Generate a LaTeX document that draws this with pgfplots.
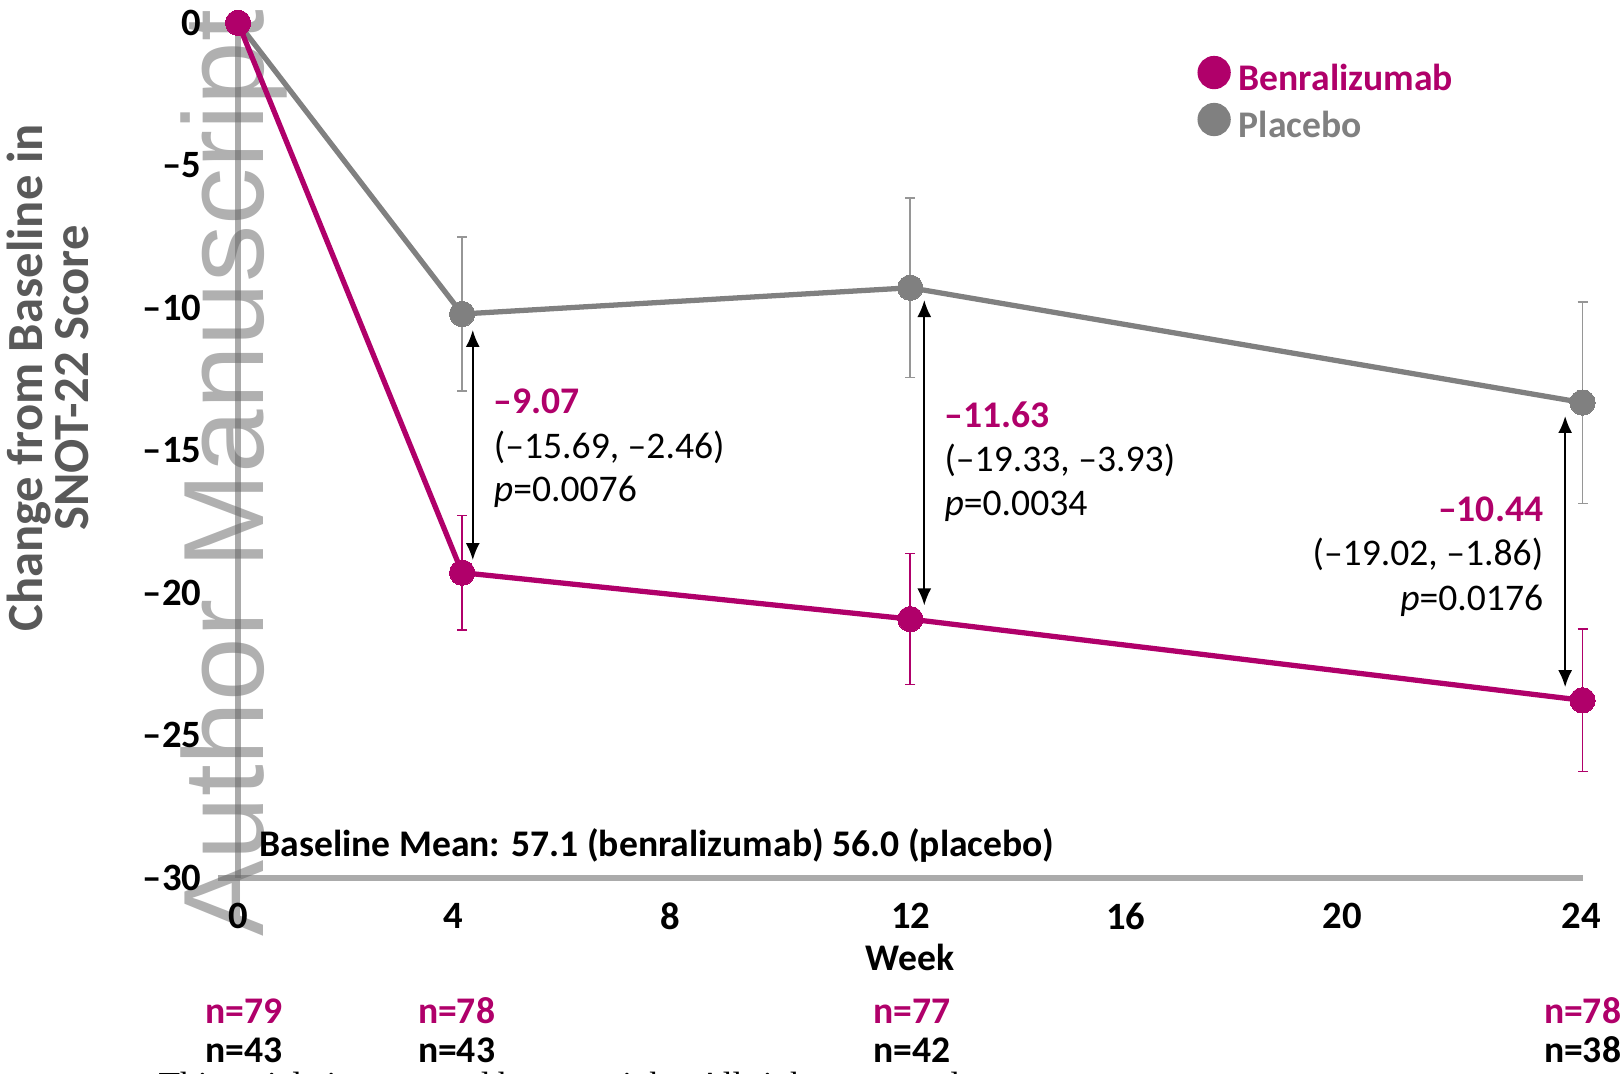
\documentclass[border=0pt]{standalone}
\usepackage{fontspec}
\setmainfont{Carlito}
\newfontfamily\wmfont{Liberation Sans}
\newfontfamily\seriffont{Liberation Serif}
\usepackage{pgfplots}
\pgfplotsset{compat=1.18}
\usetikzlibrary{arrows.meta}
\definecolor{benra}{RGB}{176,0,106}
\definecolor{plac}{RGB}{128,128,128}
\definecolor{placerr}{RGB}{150,150,150}
\definecolor{ylab}{RGB}{89,89,89}
\newcommand{\lab}{\fontsize{10.7}{13}\selectfont\bfseries}
\newcommand{\reg}{\fontsize{10.7}{13}\selectfont}
\begin{document}
\begin{tikzpicture}
\useasboundingbox (0,0) rectangle (16.23cm,10.73cm);
\node[rotate=90, anchor=base, font=\wmfont\fontsize{32.5}{36}\selectfont, text=black!50, opacity=0.62, inner sep=0pt] at (2.63cm,6.00cm) {Author Manuscript};
\node[anchor=base west, font=\seriffont\fontsize{10}{12}\selectfont, inner sep=0pt] at (1.58cm,-0.23cm) {This article is protected by copyright. All rights reserved.};
\begin{axis}[
  at={(2.3805cm,1.955cm)}, anchor=south west,
  scale only axis, width=13.4445cm, height=8.547cm,
  xmin=0, xmax=24, ymin=-30, ymax=0,
  clip=false,
  axis x line*=bottom, axis y line*=left,
  axis line style={draw=none},
  major tick length=0pt,
  xtick={0,3.84,7.72,12.01,15.85,19.71,23.98},
  xticklabels={0,4,8,12,16,20,24},
  ytick={-30,-25,-20,-15,-10,-5,0},
  yticklabels={–30,–25,–20,–15,–10,–5,0},
  xticklabel style={anchor=center, inner sep=0pt, yshift=-0.385cm, font=\fontsize{11}{13}\selectfont\bfseries},
  yticklabel style={anchor=east, inner sep=0pt, xshift=-0.36cm, font=\fontsize{11}{13}\selectfont\bfseries},
  ylabel={Change from Baseline in\\SNOT-22 Score},
  ylabel style={at={(axis description cs:-0.1414,0.5844)}, anchor=center, rotate=0, align=center, font=\fontsize{14.4}{13.3}\selectfont\bfseries, text=ylab},
  xlabel={Week},
  xlabel style={at={(axis description cs:0.4996,-0.109)}, anchor=base, font=\lab},
  legend style={at={(axis description cs:0.7131,0.9621)}, anchor=north west, draw=none, fill=none, inner sep=0pt, row sep=0.07cm, font=\lab, nodes={inner sep=0pt}, /tikz/every odd column/.append style={column sep=0.08cm}},
  legend cell align=left,
  legend image code/.code={\fill (0.14cm,0.075cm) circle (0.14cm);},
  reverse legend,
]
\draw[black!60, opacity=0.55, line width=1.7pt] (axis cs:-0.36,-30) -- (axis cs:24,-30);
\draw[black!60, opacity=0.55, line width=1.5pt] (axis cs:0,-30) -- (axis cs:0,0);

\addplot[color=plac, line width=1.5pt, mark=*, mark size=3.6pt,
  mark options={solid, fill=plac, draw=plac, line width=0pt},
  error bars/.cd, y dir=both, y explicit,
  error bar style={line width=0.45pt, color=placerr},
  error mark options={rotate=90, line width=0.45pt, color=placerr, mark size=0.05cm}]
  coordinates {(0,0) (4,-10.22) +- (0,2.70) (12,-9.30) +- (0,3.15) (24,-13.33) +- (0,3.54)};
\addlegendentry{\textcolor{plac}{Placebo}}

\addplot[color=benra, line width=1.5pt, mark=*, mark size=3.6pt,
  mark options={solid, fill=benra, draw=benra, line width=0pt},
  error bars/.cd, y dir=both, y explicit,
  error bar style={line width=0.45pt, color=benra},
  error mark options={rotate=90, line width=0.45pt, color=benra, mark size=0.05cm}]
  coordinates {(0,0) (4,-19.30) +- (0,2.01) (12,-20.93) +- (0,2.30) (24,-23.78) +- (0,2.50)};
\addlegendentry{\textcolor{benra}{Benralizumab}}

\draw[{Latex[length=0.17cm,width=0.14cm]}-{Latex[length=0.17cm,width=0.14cm]}, line width=0.6pt] (axis cs:4.19,-10.78) -- (axis cs:4.19,-18.86);
\draw[{Latex[length=0.17cm,width=0.14cm]}-{Latex[length=0.17cm,width=0.14cm]}, line width=0.6pt] (axis cs:12.25,-9.73) -- (axis cs:12.25,-20.45);
\draw[{Latex[length=0.17cm,width=0.14cm]}-{Latex[length=0.17cm,width=0.14cm]}, line width=0.6pt] (axis cs:23.69,-13.80) -- (axis cs:23.69,-23.32);

\node[anchor=base west, inner sep=0pt, font=\lab, text=benra] at (axis cs:4.556,-13.70) {–9.07};
\node[anchor=base west, inner sep=0pt, font=\reg] at (axis cs:4.556,-15.28) {(–15.69, –2.46)};
\node[anchor=base west, inner sep=0pt, font=\reg] at (axis cs:4.556,-16.80) {\textit{p}=0.0076};

\node[anchor=base west, inner sep=0pt, font=\lab, text=benra] at (axis cs:12.60,-14.19) {–11.63};
\node[anchor=base west, inner sep=0pt, font=\reg] at (axis cs:12.60,-15.75) {(–19.33, –3.93)};
\node[anchor=base west, inner sep=0pt, font=\reg] at (axis cs:12.60,-17.31) {\textit{p}=0.0034};

\node[anchor=base east, inner sep=0pt, font=\lab, text=benra] at (axis cs:23.31,-17.50) {–10.44};
\node[anchor=base east, inner sep=0pt, font=\reg] at (axis cs:23.31,-19.06) {(–19.02, –1.86)};
\node[anchor=base east, inner sep=0pt, font=\reg] at (axis cs:23.31,-20.62) {\textit{p}=0.0176};

\node[anchor=base west, inner sep=0pt, font=\lab] at (axis cs:0.371,-29.27) {Baseline Mean: 57.1 (benralizumab) 56.0 (placebo)};

\node[anchor=base, inner sep=0pt, font=\lab, text=benra] at (axis cs:0.11,-35.12) {n=79};
\node[anchor=base, inner sep=0pt, font=\lab, text=benra] at (axis cs:3.90,-35.12) {n=78};
\node[anchor=base, inner sep=0pt, font=\lab, text=benra] at (axis cs:12.03,-35.12) {n=77};
\node[anchor=base, inner sep=0pt, font=\lab, text=benra] at (axis cs:24.0,-35.12) {n=78};
\node[anchor=base, inner sep=0pt, font=\lab] at (axis cs:0.11,-36.50) {n=43};
\node[anchor=base, inner sep=0pt, font=\lab] at (axis cs:3.90,-36.50) {n=43};
\node[anchor=base, inner sep=0pt, font=\lab] at (axis cs:12.03,-36.50) {n=42};
\node[anchor=base, inner sep=0pt, font=\lab] at (axis cs:24.0,-36.50) {n=38};
\end{axis}
\end{tikzpicture}
\end{document}
